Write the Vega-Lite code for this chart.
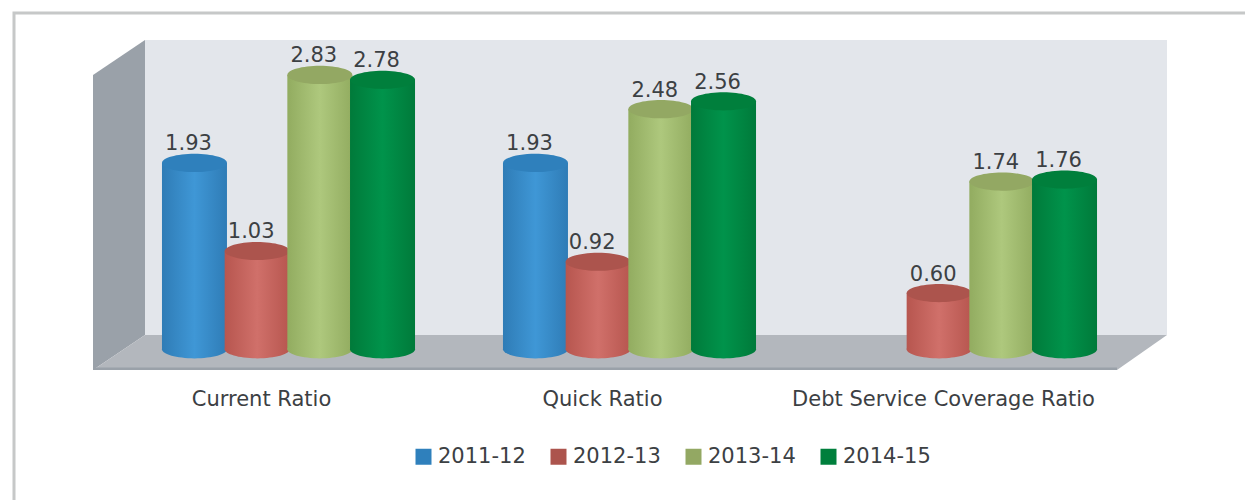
{
"$schema":"https://vega.github.io/schema/vega-lite/v6.json",
"width":1245,"height":500,"padding":0,"autosize":"none","background":"#ffffff",
"config":{"view":{"stroke":null},"font":"DejaVu Sans"},
"datasets":{
"ratios":[
{"ratio":"Current Ratio","year":"2011-12","value":1.93},
{"ratio":"Current Ratio","year":"2012-13","value":1.03},
{"ratio":"Current Ratio","year":"2013-14","value":2.83},
{"ratio":"Current Ratio","year":"2014-15","value":2.78},
{"ratio":"Quick Ratio","year":"2011-12","value":1.93},
{"ratio":"Quick Ratio","year":"2012-13","value":0.92},
{"ratio":"Quick Ratio","year":"2013-14","value":2.48},
{"ratio":"Quick Ratio","year":"2014-15","value":2.56},
{"ratio":"Debt Service Coverage Ratio","year":"2012-13","value":0.60},
{"ratio":"Debt Service Coverage Ratio","year":"2013-14","value":1.74},
{"ratio":"Debt Service Coverage Ratio","year":"2014-15","value":1.76}
],
"frame":[{"i":1,"px":14,"v":-1.516},{"i":2,"px":14,"v":3.463},{"i":3,"px":1245,"v":3.463}],
"sideWall":[{"px":93,"v":2.83,"v2":-0.187},{"px":145,"v":3.187,"v2":0.171}],
"backWall":[{"px":145,"v":3.187,"v2":0.171},{"px":1167,"v":3.187,"v2":0.171}],
"floor":[{"px":93,"v":-0.187,"v2":-0.187},{"px":145,"v":0.171,"v2":-0.187},{"px":1117,"v":0.171,"v2":-0.187},{"px":1167,"v":0.171,"v2":0.171}],
"floorEdge":[{"i":1,"px":93,"v":-0.175},{"i":2,"px":1117,"v":-0.175}]
},
"resolve":{"scale":{"x":"independent"}},
"layer":[
{"encoding":{
 "x":{"field":"px","type":"quantitative","axis":null,"scale":{"domain":[0,1245],"nice":false,"zero":false}},
 "y":{"field":"v","type":"quantitative","axis":null,"scale":{"domain":[-1.516,3.596],"nice":false,"zero":false}},
 "y2":{"field":"v2"}},
 "layer":[
 {"data":{"name":"frame"},"mark":{"type":"line","color":"#c6c8c8","strokeWidth":3},"encoding":{"order":{"field":"i","type":"quantitative"},"y2":null}},
 {"data":{"name":"backWall"},"mark":{"type":"area","color":"#e3e6eb"}},
 {"data":{"name":"sideWall"},"mark":{"type":"area","color":"#9aa1a9"}},
 {"data":{"name":"floor"},"mark":{"type":"area","color":"#b3b7bd"}},
 {"data":{"name":"floorEdge"},"mark":{"type":"line","color":"#9aa1a9","strokeWidth":2.5},"encoding":{"order":{"field":"i","type":"quantitative"},"y2":null}}
 ]},
{"data":{"name":"ratios"},
 "encoding":{
 "x":{"field":"ratio","type":"nominal","sort":["Current Ratio","Quick Ratio","Debt Service Coverage Ratio"],"scale":{"range":[118,1141],"paddingInner":0,"paddingOuter":0},
  "axis":{"title":null,"orient":"bottom","offset":-112,"domain":false,"ticks":false,"labelAngle":0,"labelFont":"DejaVu Sans","labelFontSize":21,"labelColor":"#3c4043","labelOffset":-27,"labelPadding":0,"labelLimit":500,"labelOverlap":false,"labelBaseline":"top","grid":false}},
 "xOffset":{"field":"year","type":"nominal","scale":{"domain":["2011-12","2012-13","2013-14","2014-15"],"paddingInner":0,"paddingOuter":0.72}},
 "y":{"field":"value","type":"quantitative","axis":null,"stack":null,"scale":{"domain":[-1.516,3.596],"nice":false,"zero":false}}
 },
 "layer":[
 {"transform":[{"filter":"datum.year==='2011-12'"}],"layer":[
  {"mark":{"type":"point","filled":true,"opacity":1,"size":4225,"shape":"M-1,0C-1,-.15,-.55,-.28,0,-.28C.55,-.28,1,-.15,1,0C1,.15,.55,.28,0,.28C-.55,.28,-1,.15,-1,0Z","fill":{"gradient":"linear","x1":0,"x2":1,"y1":0,"y2":0,"stops":[{"offset":0,"color":"#2f7cb6"},{"offset":0.5,"color":"#3f97d6"},{"offset":1,"color":"#2f7cb6"}]}},"encoding":{"y":{"datum":0.025}}},
  {"mark":{"type":"bar","width":65,"fill":{"gradient":"linear","x1":0,"x2":1,"y1":0,"y2":0,"stops":[{"offset":0,"color":"#2f7cb6"},{"offset":0.5,"color":"#3f97d6"},{"offset":1,"color":"#2f7cb6"}]}},"encoding":{"y2":{"datum":0.025}}},
  {"mark":{"type":"point","filled":true,"opacity":1,"size":4225,"shape":"M-1,0C-1,-.15,-.55,-.28,0,-.28C.55,-.28,1,-.15,1,0C1,.15,.55,.28,0,.28C-.55,.28,-1,.15,-1,0Z"},"encoding":{"color":{"field":"year","type":"nominal","scale":{"domain":["2011-12","2012-13","2013-14","2014-15"],"range":["#2f80bc","#ac544d","#93a863","#007f3c"]},"legend":{"title":null,"orient":"none","legendX":413,"legendY":446,"direction":"horizontal","columns":4,"symbolType":"square","symbolSize":256,"symbolOpacity":1,"labelFont":"DejaVu Sans","labelFontSize":21,"labelColor":"#3c4043","labelOffset":4,"columnPadding":22,"labelLimit":200}}}}
 ]},
 {"transform":[{"filter":"datum.year==='2012-13'"}],"layer":[
  {"mark":{"type":"point","filled":true,"opacity":1,"size":4225,"shape":"M-1,0C-1,-.15,-.55,-.28,0,-.28C.55,-.28,1,-.15,1,0C1,.15,.55,.28,0,.28C-.55,.28,-1,.15,-1,0Z","fill":{"gradient":"linear","x1":0,"x2":1,"y1":0,"y2":0,"stops":[{"offset":0,"color":"#b7564f"},{"offset":0.5,"color":"#d0706a"},{"offset":1,"color":"#b7564f"}]}},"encoding":{"y":{"datum":0.025}}},
  {"mark":{"type":"bar","width":65,"fill":{"gradient":"linear","x1":0,"x2":1,"y1":0,"y2":0,"stops":[{"offset":0,"color":"#b7564f"},{"offset":0.5,"color":"#d0706a"},{"offset":1,"color":"#b7564f"}]}},"encoding":{"y2":{"datum":0.025}}},
  {"mark":{"type":"point","filled":true,"opacity":1,"size":4225,"shape":"M-1,0C-1,-.15,-.55,-.28,0,-.28C.55,-.28,1,-.15,1,0C1,.15,.55,.28,0,.28C-.55,.28,-1,.15,-1,0Z"},"encoding":{"color":{"field":"year","type":"nominal"}}}
 ]},
 {"transform":[{"filter":"datum.year==='2013-14'"}],"layer":[
  {"mark":{"type":"point","filled":true,"opacity":1,"size":4225,"shape":"M-1,0C-1,-.15,-.55,-.28,0,-.28C.55,-.28,1,-.15,1,0C1,.15,.55,.28,0,.28C-.55,.28,-1,.15,-1,0Z","fill":{"gradient":"linear","x1":0,"x2":1,"y1":0,"y2":0,"stops":[{"offset":0,"color":"#92ac60"},{"offset":0.5,"color":"#aec87d"},{"offset":1,"color":"#92ac60"}]}},"encoding":{"y":{"datum":0.025}}},
  {"mark":{"type":"bar","width":65,"fill":{"gradient":"linear","x1":0,"x2":1,"y1":0,"y2":0,"stops":[{"offset":0,"color":"#92ac60"},{"offset":0.5,"color":"#aec87d"},{"offset":1,"color":"#92ac60"}]}},"encoding":{"y2":{"datum":0.025}}},
  {"mark":{"type":"point","filled":true,"opacity":1,"size":4225,"shape":"M-1,0C-1,-.15,-.55,-.28,0,-.28C.55,-.28,1,-.15,1,0C1,.15,.55,.28,0,.28C-.55,.28,-1,.15,-1,0Z"},"encoding":{"color":{"field":"year","type":"nominal"}}}
 ]},
 {"transform":[{"filter":"datum.year==='2014-15'"}],"layer":[
  {"mark":{"type":"point","filled":true,"opacity":1,"size":4225,"shape":"M-1,0C-1,-.15,-.55,-.28,0,-.28C.55,-.28,1,-.15,1,0C1,.15,.55,.28,0,.28C-.55,.28,-1,.15,-1,0Z","fill":{"gradient":"linear","x1":0,"x2":1,"y1":0,"y2":0,"stops":[{"offset":0,"color":"#007a3a"},{"offset":0.5,"color":"#00934b"},{"offset":1,"color":"#007a3a"}]}},"encoding":{"y":{"datum":0.025}}},
  {"mark":{"type":"bar","width":65,"fill":{"gradient":"linear","x1":0,"x2":1,"y1":0,"y2":0,"stops":[{"offset":0,"color":"#007a3a"},{"offset":0.5,"color":"#00934b"},{"offset":1,"color":"#007a3a"}]}},"encoding":{"y2":{"datum":0.025}}},
  {"mark":{"type":"point","filled":true,"opacity":1,"size":4225,"shape":"M-1,0C-1,-.15,-.55,-.28,0,-.28C.55,-.28,1,-.15,1,0C1,.15,.55,.28,0,.28C-.55,.28,-1,.15,-1,0Z"},"encoding":{"color":{"field":"year","type":"nominal"}}}
 ]},
 {"mark":{"type":"text","font":"DejaVu Sans","fontSize":21,"color":"#3c4043","dx":-6,"dy":-18.5,"baseline":"middle"},"encoding":{"text":{"field":"value","type":"quantitative","format":".2f"}}}
 ]}
]
}
